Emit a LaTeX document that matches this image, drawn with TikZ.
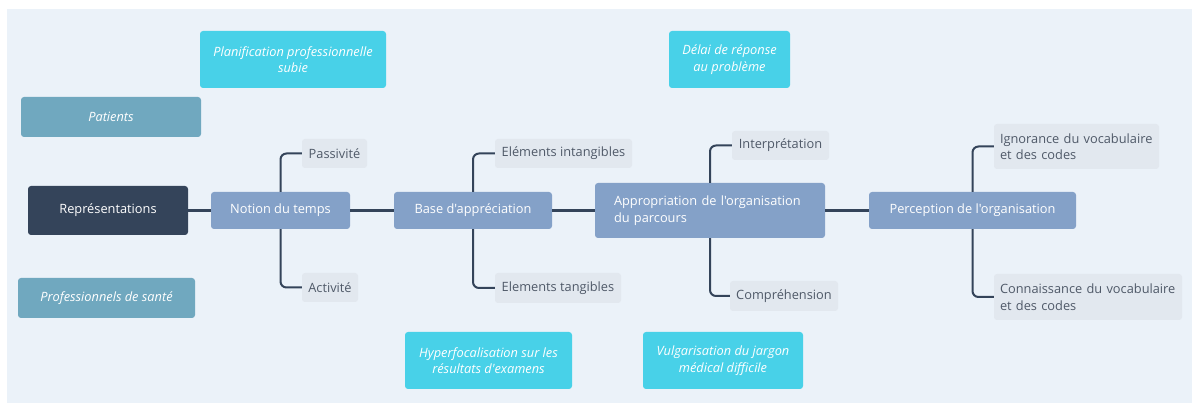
\documentclass[tikz,border=0pt]{standalone}
\usepackage{fontspec}
\setmainfont{Open Sans}[Ligatures=TeXOff]
\begin{document}
\begin{tikzpicture}[x=1pt,y=1pt,
  base/.style={rounded corners=3pt, inner sep=0pt, align=center, font=\fontsize{12.8}{16.5}\selectfont},
  cyanbox/.style={base, fill=cyanC, text=white, font=\fontsize{12.8}{16.5}\selectfont\itshape},
  tealbox/.style={base, fill=tealC, text=white, font=\fontsize{12.8}{16.5}\selectfont\itshape},
  darkbox/.style={base, fill=darkC, text=white},
  midbox/.style={base, fill=midC, text=white},
  lightbox/.style={base, fill=lightC, text=greyT},
  conn/.style={draw=lineC, line width=2.6pt},
  branch/.style={draw=lineC, line width=2pt, rounded corners=6pt}
]
\definecolor{bgC}{HTML}{EBF2F9}
\definecolor{cyanC}{HTML}{48D1E8}
\definecolor{tealC}{HTML}{70A8BF}
\definecolor{darkC}{HTML}{34445A}
\definecolor{midC}{HTML}{84A1C8}
\definecolor{lightC}{HTML}{E2E8EF}
\definecolor{greyT}{HTML}{4F5968}
\definecolor{lineC}{HTML}{34445A}
\useasboundingbox (0,0) rectangle (1192,-403);
\fill[white] (0,0) rectangle (1192,-403);
\fill[bgC] (7,-9) rectangle (1192,-403);

\node[cyanbox, minimum width=186, minimum height=57] (plan) at (293,-59.5) {Planification professionnelle\\subie};
\node[tealbox, minimum width=180, minimum height=40] (pat) at (111,-117) {Patients};
\node[darkbox, minimum width=160, minimum height=49] (rep) at (108,-210.5) {Représentations};
\node[tealbox, minimum width=177, minimum height=40] (prof) at (106.5,-298) {Professionnels de santé};
\node[midbox, minimum width=139, minimum height=37] (notion) at (280.5,-210.5) {Notion du temps};
\node[lightbox, minimum width=65, minimum height=29] (passiv) at (334.5,-153.5) {Passivité};
\node[lightbox, minimum width=56, minimum height=29] (activ) at (330,-287.5) {Activité};
\node[midbox, minimum width=158, minimum height=37] (basea) at (473,-210.5) {Base d'appréciation};
\node[lightbox, minimum width=137, minimum height=29] (eint) at (563.5,-153.5) {Eléments intangibles};
\node[lightbox, minimum width=126, minimum height=30] (etan) at (558,-288) {Elements tangibles};
\node[midbox, minimum width=230, minimum height=55, text width=192, align=left] (appr) at (710,-210.5) {\mbox{Appropriation de l'organisation}\\du parcours};
\node[lightbox, minimum width=97, minimum height=29] (interp) at (780.5,-145.5) {Interprétation};
\node[lightbox, minimum width=108, minimum height=30] (compr) at (784,-296) {Compréhension};
\node[cyanbox, minimum width=121, minimum height=57] (delai) at (729.5,-59.5) {Délai de réponse\\au problème};
\node[cyanbox, minimum width=167, minimum height=57] (hyper) at (488.5,-360.5) {Hyperfocalisation sur les\\résultats d'examens};
\node[cyanbox, minimum width=160, minimum height=57] (vulg) at (723,-360.5) {Vulgarisation du jargon\\médical difficile};
\node[midbox, minimum width=207, minimum height=37] (perc) at (972.5,-210.5) {Perception de l'organisation};
\node[lightbox, minimum width=165, minimum height=45, text width=153, align=left] (ign) at (1076.5,-146.5) {\mbox{Ignorance du vocabulaire}\\et des codes};
\node[lightbox, minimum width=188, minimum height=46, text width=176, align=left] (connv) at (1088,-297) {\mbox{Connaissance du vocabulaire}\\et des codes};

\draw[conn] (rep.east) -- (notion.west);
\draw[conn] (notion.east) -- (basea.west);
\draw[conn] (basea.east) -- (appr.west);
\draw[conn] (appr.east) -- (perc.west);
\draw[branch] (notion.north) |- (passiv.west);
\draw[branch] (notion.south) |- (activ.west);
\draw[branch] (basea.north) |- (eint.west);
\draw[branch] (basea.south) |- (etan.west);
\draw[branch] (appr.north) |- (interp.west);
\draw[branch] (appr.south) |- (compr.west);
\draw[branch] (perc.north) |- (ign.west);
\draw[branch] (perc.south) |- (connv.west);
\end{tikzpicture}
\end{document}
